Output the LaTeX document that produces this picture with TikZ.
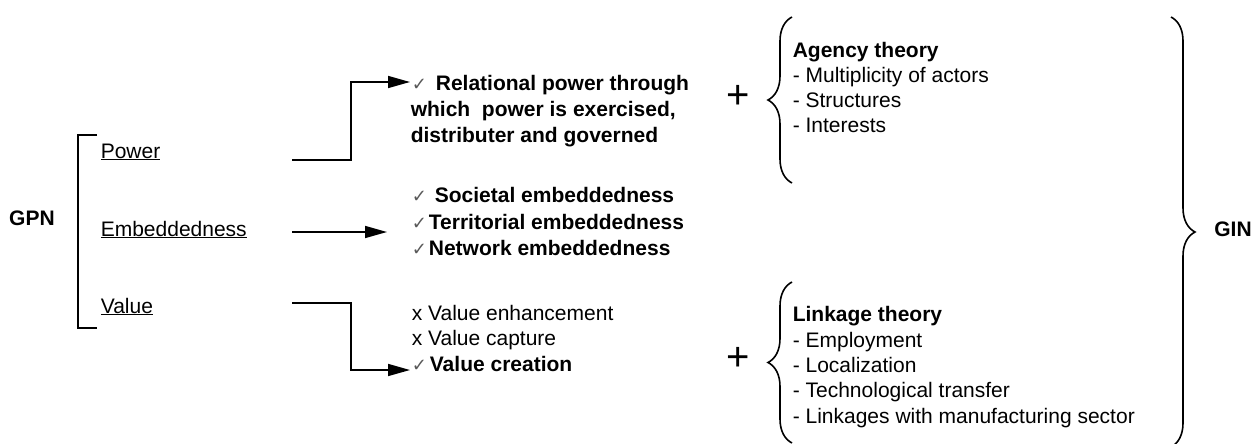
\documentclass[tikz,border=0pt]{standalone}
\usepackage{fontspec}
\setmainfont{Liberation Sans}
\newfontfamily\symfont{DejaVu Sans}
\usetikzlibrary{arrows.meta,decorations.pathreplacing}

% small grey tick in front of the retained items
\newcommand{\tick}{{\symfont\fontsize{18}{18}\selectfont\color{black!65}✓}}

\begin{document}
\begin{tikzpicture}[x=1pt,y=-1pt,line width=1.6pt,
  txt/.style={anchor=base west,inner sep=0pt,font=\fontsize{21}{25}\selectfont},
  hd/.style={txt,font=\fontsize{21}{25}\selectfont\bfseries},
  link/.style={-{Triangle[length=22pt,width=12pt]}},
  brc/.style={decorate,decoration={brace,amplitude=24pt}}]
\useasboundingbox (0,0) rectangle (1260,444);

% GPN and its three dimensions
\node[hd,anchor=base] (gpn) at (32,225) {GPN};
\draw (97,135) -- (78,135) -- (78,328) -- (97,328);
\node[txt] (power) at (100,158) {\underline{Power}};
\node[txt] (embed) at (100,236) {\underline{Embeddedness}};
\node[txt] (value) at (100,313) {\underline{Value}};

% power
\node[hd] (rel1) at (411,90) {\tick\hspace{9pt}Relational power through};
\node[hd] (rel2) at (410,116) {which\ \ power is exercised,};
\node[hd] (rel3) at (410,142) {distributer and governed};

% embeddedness
\node[hd] (emb1) at (411,202) {\tick\hspace{8pt}Societal embeddedness};
\node[hd] (emb2) at (411,229) {\tick\hspace{2pt}Territorial embeddedness};
\node[hd] (emb3) at (411,255) {\tick\hspace{2pt}Network embeddedness};

% value
\node[txt] (val1) at (411,320) {x Value enhancement};
\node[txt] (val2) at (411,345) {x Value capture};
\node[hd] (val3) at (411,371) {\tick\hspace{3pt}Value creation};

\coordinate (pw-out) at (292,160);
\coordinate (pw-in) at (410,82);
\coordinate (emb-out) at (292,232);
\coordinate (emb-in) at (387,232);
\coordinate (val-out) at (292,303);
\coordinate (val-in) at (410,370);

\draw[link] (pw-out) -- ++(59,0) |- (pw-in);
\draw[link] (emb-out) -- (emb-in);
\draw[link] (val-out) -- ++(59,0) |- (val-in);

% theories added on top
\node[font=\fontsize{40}{40}\selectfont] (plus1) at (738,97) {+};
\node[font=\fontsize{40}{40}\selectfont] (plus2) at (738,359) {+};

\draw[brc] (792,183) -- (792,17);
\node[hd] (ag0) at (792,57) {Agency theory};
\node[txt] (ag1) at (792,82) {- Multiplicity of actors};
\node[txt] (ag2) at (792,107) {- Structures};
\node[txt] (ag3) at (792,132) {- Interests};

\draw[brc] (792,443) -- (792,282);
\node[hd] (lk0) at (792,321) {Linkage theory};
\node[txt] (lk1) at (792,347) {- Employment};
\node[txt] (lk2) at (792,372) {- Localization};
\node[txt] (lk3) at (792,397) {- Technological transfer};
\node[txt] (lk4) at (792,423) {- Linkages with manufacturing sector};

% everything together gives GIN
\draw[brc] (1171,17) -- (1171,447);
\node[hd,anchor=base] (gin) at (1233,236) {GIN};
\end{tikzpicture}
\end{document}
